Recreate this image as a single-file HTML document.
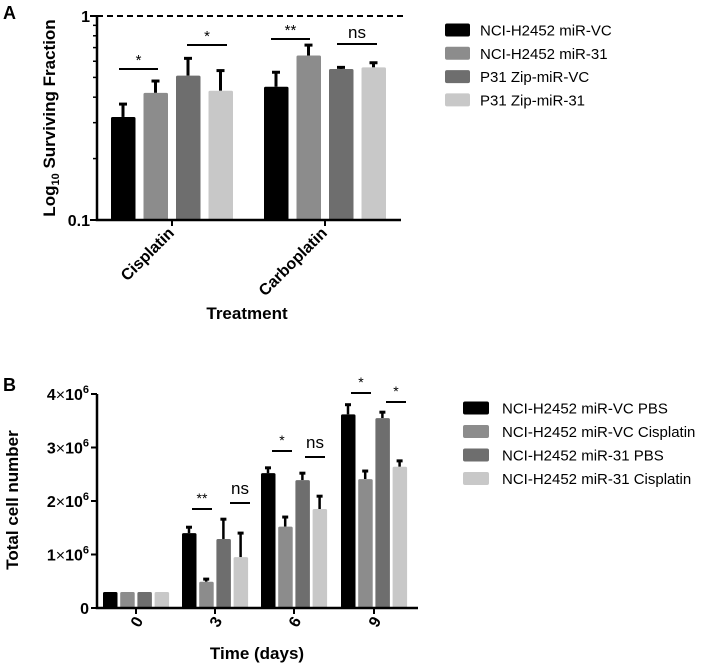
<!DOCTYPE html>
<html><head><meta charset="utf-8"><style>
body{margin:0;background:#fff;width:724px;height:664px;overflow:hidden}
svg{font-family:"Liberation Sans",Arial,sans-serif}
</style></head><body>
<svg id="s" width="724" height="664" xmlns="http://www.w3.org/2000/svg"></svg>
<script>
const colors=['#000000','#8c8c8c','#6e6e6e','#c8c8c8'];
// Panel A data
const catsA=['Cisplatin','Carboplatin'];
const seriesA=['NCI-H2452 miR-VC','NCI-H2452 miR-31','P31 Zip-miR-VC','P31 Zip-miR-31'];
const valsA=[[0.32,0.42,0.51,0.43],[0.45,0.64,0.55,0.56]];
const errA=[[0.37,0.48,0.62,0.54],[0.53,0.72,0.56,0.59]];
const ticksA=['0.1','1'];
// Panel B data
const catsB=['0','3','6','9'];
const seriesB=['NCI-H2452 miR-VC PBS','NCI-H2452 miR-VC Cisplatin','NCI-H2452 miR-31 PBS','NCI-H2452 miR-31 Cisplatin'];
const valsB=[[0.3,0.3,0.3,0.3],[1.40,0.49,1.29,0.95],[2.52,1.52,2.39,1.85],[3.62,2.41,3.55,2.64]];
const errB=[[0.3,0.3,0.3,0.3],[1.51,0.54,1.66,1.40],[2.62,1.70,2.52,2.09],[3.80,2.56,3.66,2.75]];
const ticksB=[0,1,2,3,4];

const s=document.getElementById('s');
function el(t,a,txt){const e=document.createElementNS('http://www.w3.org/2000/svg',t);for(const k in a)e.setAttribute(k,a[k]);if(txt!==undefined)e.textContent=txt;s.appendChild(e);return e;}

// ---------- Panel A ----------
const yA=v=>220-204*(Math.log10(v)+1);
const cxA=[172,325];
let t=el('text',{x:3,y:19,'font-size':18,'font-weight':'bold'},'A');

catsA.forEach((c,i)=>{valsA[i].forEach((v,j)=>{
 const x=cxA[i]-61+j*32.5;
 const ey=yA(errA[i][j]);
 let l=el('line',{x1:x+12,x2:x+12,y1:ey,y2:yA(v),stroke:'#000','stroke-width':3});
 
 let cap=el('line',{x1:x+8,x2:x+16,y1:ey,y2:ey,stroke:'#000','stroke-width':3});
 
 let r=el('rect',{x:x,y:yA(v),width:24.5,height:220-yA(v),fill:colors[j],rx:1.5});
 
});
 let tk=el('line',{x1:cxA[i],x2:cxA[i],y1:220,y2:226,stroke:'#000','stroke-width':2});
 
 let lb=el('text',{x:cxA[i]+3,y:234,'font-size':16,'font-weight':'bold','text-anchor':'end',transform:`rotate(-45 ${cxA[i]+3} 234)`},c);
 
});
let ax=el('path',{d:'M97 16 V220 H401',stroke:'#000','stroke-width':2.5,fill:'none'});

for(let m=2;m<=9;m++){let y=yA(m/10);let mt=el('line',{x1:93,x2:97,y1:y,y2:y,stroke:'#000','stroke-width':1.5});}
ticksA.forEach(tk=>{const y=yA(parseFloat(tk));
 let l=el('line',{x1:90,x2:97,y1:y,y2:y,stroke:'#000','stroke-width':2});
 let tx=el('text',{x:90,y:y+6,'font-size':16,'font-weight':'bold','text-anchor':'end'},tk);});
let dl=el('line',{x1:97,x2:404,y1:16,y2:16,stroke:'#000','stroke-width':2,'stroke-dasharray':'6,4'});

const sigA=[[119,158,69,'*'],[187,227,45,'*'],[271,310,39,'**'],[337,377,44,'ns']];
sigA.forEach(g=>{let l=el('line',{x1:g[0],x2:g[1],y1:g[2],y2:g[2],stroke:'#000','stroke-width':2});
 let tx=el('text',{x:(g[0]+g[1])/2,y:g[2]-(g[3]=='ns'?6:4),'font-size':g[3]=='ns'?17:15,'text-anchor':'middle'},g[3]);});
t=el('text',{x:247,y:319,'font-size':17,'font-weight':'bold','text-anchor':'middle'},'Treatment');
t=el('text',{x:55,y:118,'font-size':17,'font-weight':'bold','text-anchor':'middle',transform:'rotate(-90 55 118)'});
t.innerHTML='Log<tspan font-size="11" dy="4">10</tspan><tspan dy="-4"> Surviving Fraction</tspan>';

seriesA.forEach((n,j)=>{const y=30+j*23.3;
 let r=el('rect',{x:445,y:y-6.5,width:25,height:13,fill:colors[j],rx:2});
 let tx=el('text',{x:480,y:y+5.5,'font-size':15},n);});

// ---------- Panel B ----------
const yB=v=>608-53.5*v;
const cxB=[136,215,294,374];
t=el('text',{x:3,y:391,'font-size':18,'font-weight':'bold'},'B');
catsB.forEach((c,i)=>{valsB[i].forEach((v,j)=>{
 const x=cxB[i]-33+j*17.2;
 const ey=yB(errB[i][j]);
 if(errB[i][j]>v){
 let l=el('line',{x1:x+7,x2:x+7,y1:ey,y2:yB(v),stroke:'#000','stroke-width':2.5});
 let cap=el('line',{x1:x+4,x2:x+10,y1:ey,y2:ey,stroke:'#000','stroke-width':3});}
 let r=el('rect',{x:x,y:yB(v),width:14.5,height:608-yB(v),fill:colors[j],rx:1.5});
 
});
 let tk=el('line',{x1:cxB[i],x2:cxB[i],y1:608,y2:614,stroke:'#000','stroke-width':2});
 let lb=el('text',{x:cxB[i]+4,y:630,'font-size':16,'font-weight':'bold','text-anchor':'middle',transform:`rotate(-60 ${cxB[i]} 626)`},c);
});
ax=el('path',{d:'M97 394 V608 H418',stroke:'#000','stroke-width':2.5,fill:'none'});
ticksB.forEach(v=>{const y=yB(v);
 let l=el('line',{x1:91,x2:97,y1:y,y2:y,stroke:'#000','stroke-width':2});
 let tx=el('text',{x:89,y:y+6,'font-size':16,'font-weight':'bold','text-anchor':'end'});
 tx.innerHTML=v===0?'0':v+'<tspan font-weight="normal">×</tspan>10<tspan font-size="11" dy="-7">6</tspan>';
 });
const sigB=[[192,212,509,'**'],[230,250,503,'ns'],[272,292,451,'*'],[305,325,457,'ns'],[351,371,393,'*'],[386,406,402,'*']];
sigB.forEach(g=>{let l=el('line',{x1:g[0],x2:g[1],y1:g[2],y2:g[2],stroke:'#000','stroke-width':2});
 let tx=el('text',{x:(g[0]+g[1])/2,y:g[2]-(g[3]=='ns'?9:6),'font-size':g[3]=='ns'?17:14,'text-anchor':'middle'},g[3]);});
t=el('text',{x:257,y:659,'font-size':17,'font-weight':'bold','text-anchor':'middle'},'Time (days)');
t=el('text',{x:18,y:500,'font-size':17,'font-weight':'bold','text-anchor':'middle',transform:'rotate(-90 18 500)'},'Total cell number');
seriesB.forEach((n,j)=>{const y=408+j*23.5;
 let r=el('rect',{x:463,y:y-6.5,width:26,height:13,fill:colors[j],rx:2});
 let tx=el('text',{x:502,y:y+5.5,'font-size':15},n);});
</script>
</body></html>
